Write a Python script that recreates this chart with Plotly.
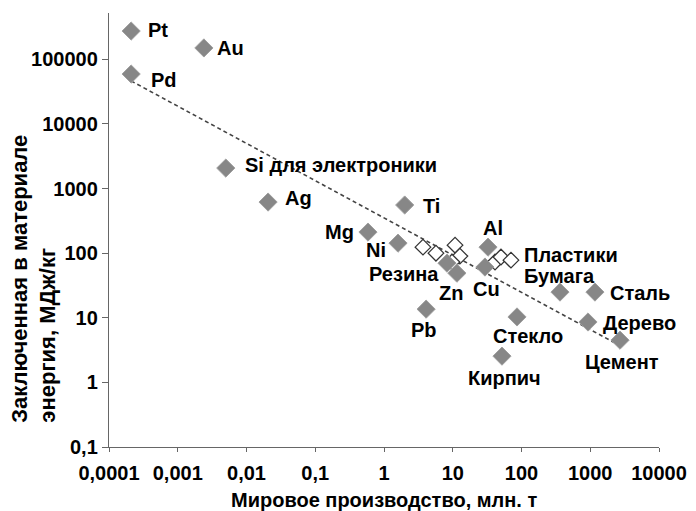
import plotly.graph_objects as go
import math

# ---- data ----
names = ["Pt", "Au", "Pd", "Si для электроники", "Ag", "Ti", "Mg", "Ni", "Резина",
         "Zn", "Al", "Cu", "Pb", "Стекло", "Кирпич", "Бумага", "Сталь", "Дерево", "Цемент"]
production = [0.00021, 0.0024, 0.00021, 0.005, 0.0206, 2.0, 0.585, 1.6, 8.25,
              11.5, 32.6, 29.4, 4.1, 86, 52, 363, 1170, 927, 2710]
energy = [274000, 150000, 59200, 2075, 618, 556, 212, 143, 70,
          49, 124, 61, 13.6, 10.3, 2.55, 25, 25, 8.6, 4.5]

plastics_name = "Пластики"
plastics_prod = [3.69, 5.7, 10.8, 12.7, 9.75, 41.2, 50.3, 70.3]
plastics_energy = [124, 100, 133, 90, 72.8, 72.8, 87, 78]

trend_x = [0.00021, 2710]
trend_y = [46300, 3.7]

x_tickvals = [0.0001, 0.001, 0.01, 0.1, 1, 10, 100, 1000, 10000]
x_ticktext = ["0,0001", "0,001", "0,01", "0,1", "1", "10", "100", "1000", "10000"]
y_tickvals = [0.1, 1, 10, 100, 1000, 10000, 100000]
y_ticktext = ["0,1", "1", "10", "100", "1000", "10000", "100000"]

x_title = "Мировое производство, млн. т"
y_title = "Заключенная в материале<br>энергия, МДж/кг"

# label placement (anchor, dx px, dy px)
label_pos = {
    "Pt": ("left", 15, 1), "Au": ("left", 11, 0), "Pd": ("left", 18, -6),
    "Si для электроники": ("left", 17, 3), "Ag": ("left", 15, 4), "Ti": ("left", 16, -1),
    "Mg": ("right", -12, 0), "Ni": ("center", -22, -7), "Резина": ("right", -6, -11),
    "Zn": ("center", -6, -20), "Al": ("center", 5, 19), "Cu": ("center", 2, -22),
    "Pb": ("center", -2, -21), "Стекло": ("center", 11, -19), "Кирпич": ("center", 3, -22),
    "Бумага": ("center", 0, 16), "Сталь": ("left", 13, -1), "Дерево": ("left", 13, -1),
    "Цемент": ("center", 2, -22),
}

FONT = "Liberation Sans, Arial, sans-serif"
LBL = 20

fig = go.Figure()
fig.add_trace(go.Scatter(x=trend_x, y=trend_y, mode="lines",
                         line=dict(color="#444444", width=1.6, dash="4px,3px"),
                         hoverinfo="skip", showlegend=False))
fig.add_trace(go.Scatter(x=plastics_prod, y=plastics_energy, mode="markers",
                         marker=dict(symbol="diamond", size=12, color="white",
                                     line=dict(color="#333333", width=1.3)),
                         showlegend=False))
fig.add_trace(go.Scatter(x=production, y=energy, mode="markers",
                         marker=dict(symbol="diamond", size=14, color="#878787",
                                     line=dict(color="#a0a0a0", width=1)),
                         showlegend=False))

for n, xv, yv in zip(names, production, energy):
    anchor, dx, dy = label_pos[n]
    fig.add_annotation(x=math.log10(xv), y=math.log10(yv), text="<b>%s</b>" % n,
                       showarrow=False, xanchor=anchor, yanchor="middle",
                       xshift=dx, yshift=dy,
                       font=dict(family=FONT, size=LBL, color="black"))

fig.add_annotation(x=math.log10(plastics_prod[-1]), y=math.log10(plastics_energy[-1]),
                   text="<b>%s</b>" % plastics_name, showarrow=False,
                   xanchor="left", yanchor="middle", xshift=11, yshift=5,
                   font=dict(family=FONT, size=LBL, color="black"))

# axis titles
fig.add_annotation(x=-0.137, y=0.387, xref="paper", yref="paper", text="<b>%s</b>" % y_title,
                   textangle=-90, showarrow=False, xanchor="center", yanchor="middle",
                   align="left", font=dict(family=FONT, size=22, color="black"))
fig.add_annotation(x=0.5, y=-0.122, xref="paper", yref="paper", text="<b>%s</b>" % x_title,
                   showarrow=False, xanchor="center", yanchor="middle",
                   font=dict(family=FONT, size=20, color="black"))

axis_common = dict(showgrid=False, zeroline=False, showline=True, linecolor="#666666",
                   linewidth=1.4, ticks="outside", tickcolor="#666666", automargin=False,
                   tickfont=dict(family=FONT, size=20, color="black", weight="bold"))

fig.update_xaxes(type="log", range=[-4, 4], tickvals=x_tickvals, ticktext=x_ticktext,
                 ticklen=4, ticklabelstandoff=4, **axis_common)
fig.update_yaxes(type="log", range=[-1, 5.717], tickvals=y_tickvals, ticktext=y_ticktext,
                 ticklen=6, **axis_common)

fig.update_layout(width=696, height=511, plot_bgcolor="white", paper_bgcolor="white",
                  margin=dict(l=109, r=37, t=13, b=64), showlegend=False)

fig.write_html("out.html", config={"displayModeBar": False},
               post_script="document.body.style.margin='0';")
